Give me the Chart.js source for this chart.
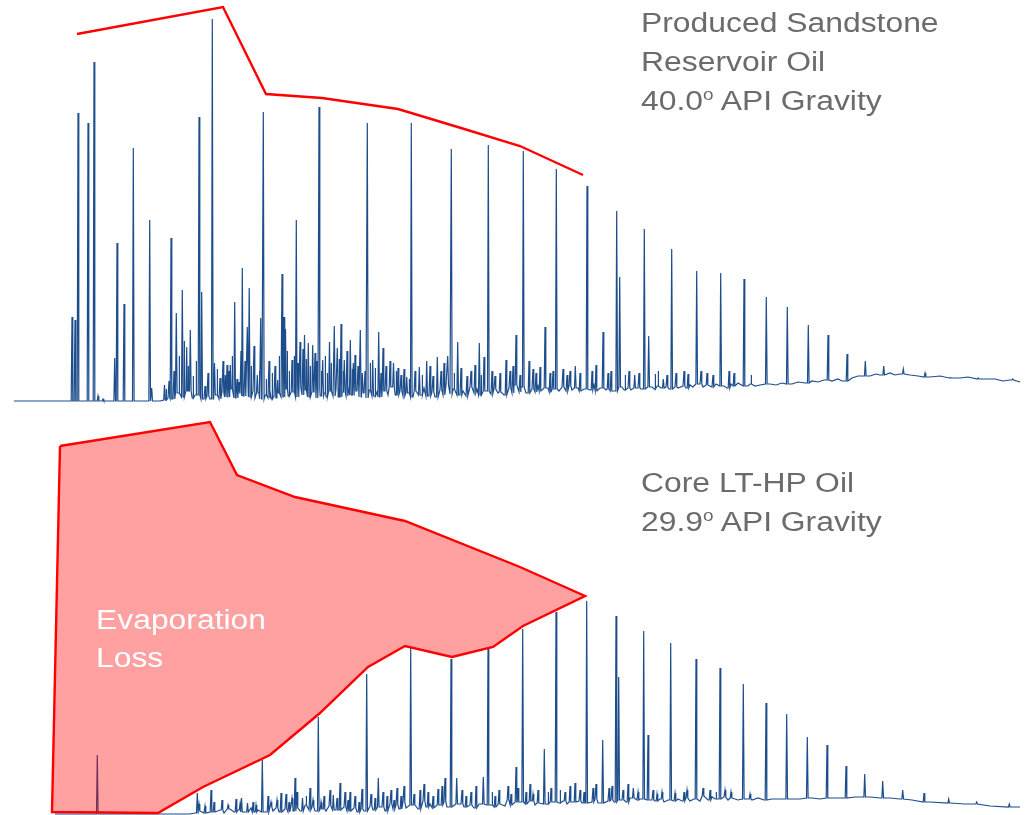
<!DOCTYPE html>
<html>
<head>
<meta charset="utf-8">
<script src="https://cdn.jsdelivr.net/npm/chart.js@4.4.0/dist/chart.umd.min.js"></script>
<style>
  html, body { margin: 0; padding: 0; background: #fff; }
  .page { position: relative; width: 1029px; height: 815px; overflow: hidden; }
  .page canvas { position: absolute; left: 0; }
  .lbl {
    position: absolute;
    font-family: "Liberation Sans", Arial, sans-serif;
    font-size: 27px;
    line-height: 27px;
    white-space: nowrap;
    transform: scaleX(1.18);
    transform-origin: left top;
    color: #6b6b6b;
  }
  .lbl .deg { font-size: 16px; position: relative; top: -10px; }
  .lbl.loss { color: #fff; }
</style>
</head>
<body>
<div class="page">
  <canvas id="topChart" width="1029" height="405" style="top:0"></canvas>
  <canvas id="bottomChart" width="1029" height="410" style="top:405px"></canvas>

  <div class="lbl" style="left:641px; top:10px">Produced Sandstone</div>
  <div class="lbl" style="left:641px; top:49px">Reservoir Oil</div>
  <div class="lbl" style="left:641px; top:88px">40.0<span class="deg">o</span> API Gravity</div>

  <div class="lbl" style="left:641px; top:470px">Core LT-HP Oil</div>
  <div class="lbl" style="left:641px; top:509px">29.9<span class="deg">o</span> API Gravity</div>

  <div class="lbl loss" style="left:96px; top:607px">Evaporation</div>
  <div class="lbl loss" style="left:96px; top:645px">Loss</div>
</div>

<script>
// retention (arbitrary units) vs detector response

// produced oil: baseline / unresolved hump readings
const topBaseline = [
  [14,0],[70,0],[160,0],[166,1],[168,3],[173,2],[179,8],[184,4],[188,10],[193,3],[196,6],
  [204,2],[207,5],[210,2],[217,6],[219,2],[222,9],[228,4],[232,12],[236,3],[240,8],[244,5],
  [246,14],[251,4],[253,10],[255,3],[259,8],[262,2],[266,6],[268,3],[270,10],[272,2],[274,5],
  [276,3],[279,8],[281,4],[287,12],[289,5],[294,9],[297,4],[299,14],[302,6],[306,11],[310,4],
  [314,9],[316,3],[318,12],[321,5],[325,8],[327,4],[331,10],[333,5],[336,12],[339,4],[343,9],
  [346,5],[348,14],[352,6],[357,10],[359,4],[364,8],[366,3],[370,11],[375,5],[377,9],[380,4],
  [385,10],[388,6],[391,14],[396,6],[400,10],[403,5],[409,8],[413,4],[416,10],[422,6],[424,13],
  [429,5],[432,9],[435,4],[440,11],[443,6],[446,16],[450,7],[454,12],[460,6],[463,10],[466,5],
  [470,14],[474,8],[477,12],[481,6],[486,10],[491,7],[494,12],[498,8],[501,9],[504,6],[509,13],
  [512,8],[514,16],[519,9],[521,14],[526,8],[532,12],[535,9],[538,15],[541,10],[548,13],[551,9],
  [554,12],[559,10],[562,14],[566,10],[569,15],[572,11],[578,13],[581,10],[584,12],[590,11],
  [594,16],[597,10],[600,13],[606,11],[609,12],[612,10],[622,14],[625,11],[628,13],[631,11],
  [638,13],[641,12],[652,14],[655,12],[658,15],[661,13],[666,14],[669,12],[675,14],[678,13],
  [683,15],[686,13],[690,16],[693,14],[700,17],[703,14],[708,16],[712,14],[716,17],[724,15],
  [727,13],[731,17],[735,15],[738,18],[748,15],[751,17],[755,15],[760,16],[770,17],[776,16],
  [782,18],[792,17],[798,19],[805,18],[812,20],[818,19],[824,21],[832,20],[838,22],[842,20],
  [852,23],[858,25],[870,25],[876,27],[880,26],[890,28],[895,26],[900,27],[910,26],[918,25],
  [930,24],[940,25],[950,23],[960,23],[968,24],[985,22],[995,22],[1003,20],[1010,21],[1020,19]
];

// produced oil: resolved peaks [retention, apex response]
const topPeaks = [
  [72,84],[75,81],[78,288],[88,278],[94,339],[98,5],[103,2],[114.7,43],[117,158],[124,97],
  [133.3,253],[149.7,181],[151.7,13],[164.5,16],[171,163],[176.3,88],[182.3,111],[186.7,54],
  [190.3,71],[199,284],[201.7,109],[212.3,382],[214.5,38],[220,23],[225.3,26],[227,36],
  [230.3,36],[234.7,99],[239,19],[242.3,133],[247.3,74],[249.2,113],[257.3,26],[260.7,83],
  [263.3,289],[277.7,21],[282,127],[284,84],[285.5,72],[292,41],[296.3,181],[300,59],
  [304.5,66],[308.3,58],[312.7,56],[319,294],[322.7,41],[329.5,59],[334.3,75],[337.3,53],
  [341,77],[344.3,41],[350.3,61],[353.3,38],[355,46],[360.3,71],[362.3,28],[367.3,278],
  [372.7,41],[378.7,69],[383,53],[393.5,38],[398,33],[406.7,24],[411.3,278],[419.3,34],
  [426.7,40],[437.3,44],[447.7,45],[451.3,252],[457.7,59],[479.3,58],[484,44],[488.3,256],
  [506,41],[516,66],[523.3,250],[529,40],[545,74],[556.3,232],[575.3,35],[587,215],[603,69],
  [616.7,190],[619.7,124],[634.7,26],[644.3,172],[648.7,65],[663.3,22],[671.7,152],
  [696.7,130],[720.7,128],[744,122],[766.3,104],[787.3,94],[808.3,76],[828,66],[847,47],
  [865.3,40],[883.7,35],[903.3,32],[925,28],[950,24],[978.3,23],[1012.7,22]
];

// produced oil: small unresolved peaks in the grass
const topMinorPeaks = [
  [166,12],[169,20],[174,30],[179,45],[184,60],[188,35],[193,25],[196,40],[205,15],[208,28],
  [217,32],[223,40],[229,30],[232,45],[237,22],[241,50],[245,40],[251,35],[254,55],[259,30],
  [266,22],[269,40],[272,28],[275,35],[279,45],[287,50],[289,30],[294,45],[298,38],[303,52],
  [306,42],[310,35],[315,48],[317,40],[321,30],[325,45],[327,28],[331,38],[339,42],[343,30],
  [347,50],[352,32],[358,35],[365,30],[370,38],[375,33],[381,28],[386,35],[390,40],[396,30],
  [401,26],[404,32],[409,22],[415,30],[422,26],[430,35],[433,25],[441,30],[444,38],[454,28],
  [461,33],[467,25],[471,30],[475,36],[481,26],[492,30],[495,25],[500,28],[510,30],[513,35],
  [520,26],[533,32],[536,28],[540,34],[550,28],[553,30],[563,32],[567,26],[570,30],[580,28],
  [592,30],[596,36],[608,28],[611,30],[625,26],[629,30],[639,28],[655,27],[658,30],[667,26],
  [676,28],[684,30],[688,27],[701,30],[707,28],[713,26],[729,30],[734,28],[751,26]
];

// red guide line over the produced-oil n-alkane tops
const topEnvelope = [[77,367],[223,394],[266,307],[322,303],[398,292],[461,273],[520,255],[583,226]];

// core oil: baseline / hump readings
const bottomBaseline = [
  [55,0],[150,0],[190,0],[195,1],[200,3],[204,1],[215,2],[220,4],[224,1],[230,5],[234,2],[238,4],
  [244,2],[251,6],[254,2],[258,4],[266,2],[270,7],[273,3],[276,6],[279,2],[285,5],[288,2],[291,8],
  [293,3],[298,6],[300,3],[306,9],[309,4],[312,7],[315,3],[322,5],[326,3],[329,8],[336,4],[344,7],
  [347,3],[354,6],[357,2],[361,5],[364,3],[370,8],[373,4],[382,7],[385,3],[390,10],[393,5],[396,9],
  [399,5],[403,12],[406,6],[415,9],[418,5],[423,13],[426,7],[430,10],[434,6],[440,9],[444,12],
  [447,7],[461,10],[464,7],[470,9],[474,6],[479,10],[492,9],[496,7],[500,10],[505,8],[509,14],
  [512,9],[519,12],[527,10],[531,13],[535,9],[539,11],[548,10],[552,12],[560,11],[563,13],
  [567,10],[571,12],[579,13],[582,11],[592,12],[595,15],[598,11],[608,13],[611,14],[614,12],
  [622,14],[626,12],[630,16],[637,14],[640,15],[652,14],[655,13],[660,15],[664,12],[668,14],
  [674,13],[678,15],[682,13],[686,16],[690,13],[694,15],[700,13],[704,18],[708,14],[712,17],
  [716,15],[724,17],[728,14],[732,16],[738,14],[748,15],[752,14],[758,16],[764,14],[772,15],
  [780,15],[790,15],[800,15],[812,16],[820,15],[830,16],[840,16],[855,17],[870,17],[880,16],
  [890,16],[900,15],[912,14],[930,12],[950,11],[965,10],[990,8],[1020,7]
];

// core oil: resolved peaks [retention, apex response]
const bottomPeaks = [
  [97.3,59],[197.3,21],[211,24],[241.5,16],[247.5,11],[262.3,54],[281,21],[295,36],[302.5,16],
  [318.3,97],[333.3,19],[340,31],[350,22],[366.7,140],[378.3,36],[410.7,166],[451,155],
  [456.7,36],[483.3,37],[488,165],[516,47],[522.7,185],[544.3,65],[556,202],[575,31],
  [586.7,213],[602.7,74],[616,198],[618.7,137],[633.3,26],[643.7,183],[648,79],[670.7,171],
  [696,155],[720,146],[743.3,130],[766,111],[786.7,100],[807.3,77],[827,69],[846,48],
  [864.7,40],[882.7,33],[902.7,24],[924,21],[948.7,15],[976.7,12],[1009.3,10]
];

// core oil: small unresolved peaks in the grass
const bottomMinorPeaks = [
  [199,10],[205,8],[214,12],[222,14],[228,9],[236,15],[240,10],[253,12],[256,9],[268,18],
  [271,12],[277,14],[286,20],[289,12],[292,16],[297,22],[306,18],[310,26],[313,14],[321,12],
  [324,18],[330,24],[337,16],[345,22],[348,14],[355,18],[359,12],[362,25],[371,20],[375,16],
  [383,22],[387,18],[391,24],[394,14],[397,26],[401,18],[404,28],[414,20],[420,24],[424,30],
  [428,22],[433,18],[438,25],[442,28],[445,36],[462,24],[466,18],[471,22],[476,28],[492,22],
  [495,18],[499,24],[508,28],[511,20],[518,26],[526,22],[530,30],[533,20],[538,24],[548,22],
  [551,26],[560,24],[565,22],[570,28],[580,24],[584,22],[593,26],[596,30],[609,26],[612,28],
  [623,24],[628,30],[638,22],[653,24],[657,20],[662,22],[675,21],[684,22],[687,24],[703,26],
  [710,24],[716,22],[725,24],[731,22],[750,20]
];

// outline of the evaporation-loss region
const lossOutline = [
  [60,368],[210,392],[237,339],[295,317],[405,293],[520,247],[585,218],[523,188],[493,167],
  [452,157],[405,168],[368,147],[320,101],[270,59],[203,27],[158,1],[52,2],[60,368]
];

const traceColor = "#1d4d8b";

// nearest baseline reading, used as the foot of each peak
const footAt = (baseline, x) => {
  let best = baseline[0];
  for (const p of baseline) {
    if (Math.abs(p[0] - x) < Math.abs(best[0] - x)) best = p;
  }
  return best[1];
};

const buildTrace = (baseline, peaks) => {
  const pts = baseline.map(([x, y]) => ({ x, y }));
  peaks.forEach(([x, h]) => {
    const foot = footAt(baseline, x);
    pts.push({ x: x - 0.8, y: foot }, { x, y: h }, { x: x + 0.8, y: foot });
  });
  return pts.sort((a, b) => a.x - b.x);
};

const toXY = (arr) => arr.map(([x, y]) => ({ x, y }));

const makeOptions = (yMin, yMax) => ({
  responsive: false,
  animation: false,
  events: [],
  layout: { padding: 0, autoPadding: false },
  plugins: { legend: { display: false }, tooltip: { enabled: false } },
  elements: { point: { radius: 0 } },
  scales: {
    x: { type: "linear", min: 0, max: 1029, display: false },
    y: { type: "linear", min: yMin, max: yMax, display: false },
  },
});

new Chart(document.getElementById("topChart"), {
  type: "line",
  data: {
    datasets: [
      {
        data: toXY(topEnvelope),
        borderColor: "#ff0000",
        borderWidth: 2.4,
        fill: false,
      },
      {
        data: buildTrace(topBaseline, topPeaks.concat(topMinorPeaks)),
        borderColor: traceColor,
        borderWidth: 1.2,
        fill: false,
      },
    ],
  },
  options: makeOptions(-4, 401),
});

new Chart(document.getElementById("bottomChart"), {
  type: "line",
  data: {
    datasets: [
      {
        data: toXY(lossOutline),
        borderColor: "#ff0000",
        borderWidth: 2.4,
        backgroundColor: "rgba(255, 0, 0, 0.37)",
        fill: "shape",
      },
      {
        data: buildTrace(bottomBaseline, bottomPeaks.concat(bottomMinorPeaks)),
        borderColor: traceColor,
        borderWidth: 1.2,
        fill: false,
      },
    ],
  },
  options: makeOptions(-1, 409),
});
</script>
</body>
</html>
